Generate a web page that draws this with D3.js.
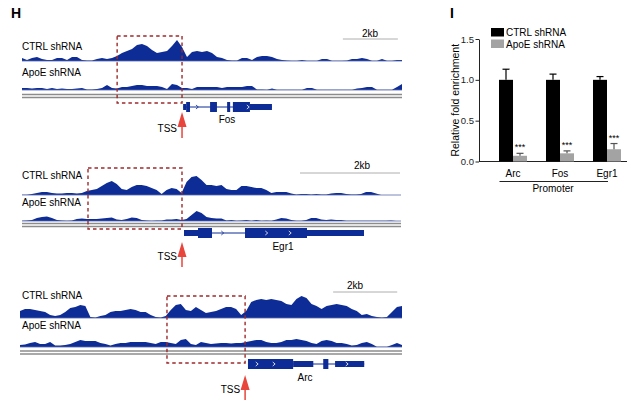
<!DOCTYPE html>
<html>
<head>
<meta charset="utf-8">
<script src="https://cdn.jsdelivr.net/npm/d3@7"></script>
<style>
body { margin: 0; background: #fff; }
text { font-family: "Liberation Sans", Arial, sans-serif; }
</style>
</head>
<body>
<svg id="fig" width="641" height="410"></svg>
<script>
// ---- panel H: coverage (77 even bins across each window) ----
var fosCtrl = [3,1,3,4,2,1,1,3,3,1,4,4,1,0.5,0.5,2,3,2,3,5,8,10,12,16,17,15,11,8,9,10,15,21,14,4,9,10,9,10,8,4,3,1,0.5,0.5,3,3,1,4,5,5,4,2,1,0.5,0.3,0.3,1,0.3,0.3,0.3,2,2,0.3,0.3,0.3,0.5,2,2,3,2,0.3,0.3,2,0.3,0.3,1,1];
var fosApoe = [2,2,1.5,2,2,1,2,1,1.5,1,1,1.5,2,0.5,0.5,1,2,5,2,1.5,3,3,4,5,5,4,4,4,3,1,6,5,2,2,1,3,3,3,3,3,2,3,3,3,3,4,4,0.5,0.5,0.3,1.5,0.3,0.3,0.3,0.3,0.3,0.3,2,2,0.3,0.3,0.3,0.3,0.3,0.3,0.3,0.3,1.5,2,3,3,0.3,0.3,0.3,0.3,3,6];
var egr1Ctrl = [0.3,0.3,1,2,3,3,2,1.5,1.5,2,2,1.5,2,4,5,6,9,12,14,11,6,5,8,10,10,9,7,5,1,5,7,6,2,13,18,19,15,10,10,9,10,6,5,5,9,9,8,7,7,5,2,3,3,3,1.5,0.5,1,1,0.5,1,0.5,0.5,1.5,2,2,1,0.5,0.5,1,3,3,1.5,0,0,0,0,0];
var egr1Apoe = [0.3,0.5,1,3,4,4.5,3,1,0.5,0.3,0.5,2,2.5,2,2,2,2.5,3,3.5,1.5,1,2,3.5,3,1,0.5,0.3,0.5,0.5,1.5,1.5,2,1,2,6,10,8,4,3,2.5,2.5,0.5,1,0.3,0.5,1,0.3,1,0.3,0.5,0.3,1.5,3,2.5,1,0.3,0.3,1,3,3,1.5,1,1.5,1,1,0.3,0.3,0.3,0.3,0.3,0.3,0.3,0.3,0.3,0.5,0,0];
var arcCtrl = [7,9,9,8,7,6,3,2,3,6,10,11,13,12,1,0.5,2,3,6,7,7,8,9,8,6,6,3,1,0.5,2,8,13,14,8,7,11,8,5,6,7,9,11,11,9,3,7,16,18,19,18,19,18,17,14,13,19,22,20,14,12,9,12,13,14,13,12,9,7,3,4,2,1,0.5,1,6,11,12];
var arcApoe = [2,2.5,4,5,3,3,5,1.5,1.5,2,3,5,7,6,6,6,4,3,1.5,3,4,4,5,5,5,5,4,3,5,5,4,3,7,8,3,2,5,4,3,3.5,4,4,3.5,4,4,5,6,7,7,5,4,4,5,7,7,8,7,6,4,3,6,7,6,4,4,3,1.5,2,4,5,3,0.3,0.3,0.3,2,4,2];

// genomic windows in kb relative to TSS
var geneNames = ["Fos", "Egr1", "Arc"];
var windowsKb = [[-5.82, 8.0], [-3.2, 4.38], [-7.03, 4.9]];
var roiKb = [[-2.36, 0], [-1.88, 0], [-2.44, 0]];
var scaleBarStartKb = [5.85, 2.36, 2.75];
// exons: [start kb, end kb, kind]  kind: "cds" thick, "utr" medium
var fosExons = [[0.04,0.15,"utr"],[0.15,0.29,"cds"],[1.02,1.27,"cds"],[1.64,1.75,"cds"],[1.85,2.47,"cds"],[2.47,3.27,"utr"]];
var egr1Exons = [[0.04,0.32,"utr"],[0.32,0.6,"cds"],[1.26,2.5,"cds"],[2.5,3.64,"utr"]];
var arcExons = [[0.09,1.5,"cds"],[1.5,2.13,"utr"],[2.44,2.6,"cds"],[2.81,3.72,"utr"]];
var fosChevrons = [0.55, 2.4];
var egr1Chevrons = [0.81, 1.69, 2.16];
var arcChevrons = [0.37, 0.9, 3.18];

// ---- panel I: ChIP-qPCR ----
var promoters = ["Arc", "Fos", "Egr1"];
var ctrlMean = [1.0, 1.0, 1.0];
var ctrlErr = [0.13, 0.07, 0.04];
var apoeMean = [0.07, 0.10, 0.15];
var apoeErr = [0.03, 0.03, 0.07];
var yTicks = [0, 0.5, 1.0, 1.5];

var blue = "#0d2c96", red = "#e8453c", darkRed = "#9e2a2b";
var svg = d3.select("#fig");

// layout of the three browser blocks (pixels)
var layout = [
  {px: [22, 402], tssX: 182, ctrlY: 61, apoeY: 90, railY: 94.5, geneY: 107, labCtrl: 49.5, labApoe: 75.5,
   roiY: [36, 103], barY: 39, kbText: [370, 36.5], geneLab: [227, 123], tssLab: 132, arrow: [112, 138]},
  {px: [22, 401], tssX: 182, ctrlY: 195, apoeY: 221, railY: 223.5, geneY: 233, labCtrl: 178.5, labApoe: 206,
   roiY: [168, 229], barY: 173, kbText: [362, 169], geneLab: [283, 250], tssLab: 260, arrow: [242, 267]},
  {px: [20, 402], tssX: 245, ctrlY: 318, apoeY: 347, railY: 351, geneY: 364, labCtrl: 298.5, labApoe: 329,
   roiY: [296, 363], barY: 292, kbText: [355, 288.5], geneLab: [305, 381], tssLab: 393, arrow: [375, 400]}
];
var coverage = [[fosCtrl, fosApoe], [egr1Ctrl, egr1Apoe], [arcCtrl, arcApoe]];
var exons = [fosExons, egr1Exons, arcExons];
var chevrons = [fosChevrons, egr1Chevrons, arcChevrons];

var h = d3.scaleLinear().domain([0, 22]).range([0, 22]);

svg.append("text").attr("x", 11).attr("y", 18).text("H")
  .attr("font-size", 14).attr("font-weight", "bold");

layout.forEach(function (L, b) {
  var g = svg.append("g");
  var x = d3.scaleLinear().domain(windowsKb[b]).range(L.px);

  // coverage tracks
  [L.ctrlY, L.apoeY].forEach(function (base, t) {
    var vals = coverage[b][t];
    var xi = d3.scaleLinear().domain([0, vals.length - 1]).range(L.px);
    g.append("path")
      .datum(vals)
      .attr("d", d3.area()
        .x(function (d, i) { return xi(i); })
        .y0(base)
        .y1(function (d) { return base - h(d); }))
      .attr("fill", blue);
    g.append("line")
      .attr("x1", L.px[0]).attr("x2", L.px[1])
      .attr("y1", base).attr("y2", base)
      .attr("stroke", "#5a6aa8").attr("stroke-width", 0.8);
  });

  g.append("text").attr("x", 22).attr("y", L.labCtrl).text("CTRL shRNA").attr("font-size", 10);
  g.append("text").attr("x", 22).attr("y", L.labApoe).text("ApoE shRNA").attr("font-size", 10);

  // double rail
  [L.railY, L.railY + 3].forEach(function (yy) {
    g.append("line").attr("x1", L.px[0]).attr("x2", L.px[1])
      .attr("y1", yy).attr("y2", yy)
      .attr("stroke", "#8c8c8c").attr("stroke-width", 1.5);
  });

  // scale bar
  var s0 = scaleBarStartKb[b];
  g.append("line").attr("x1", x(s0)).attr("x2", x(s0 + 2))
    .attr("y1", L.barY).attr("y2", L.barY)
    .attr("stroke", "#999").attr("stroke-width", 0.8);
  g.append("text").attr("x", L.kbText[0]).attr("y", L.kbText[1])
    .attr("text-anchor", "middle").attr("font-size", 10).text("2kb");

  // gene model
  var ex = exons[b];
  g.append("line")
    .attr("x1", x(ex[0][0])).attr("x2", x(ex[ex.length - 1][1]))
    .attr("y1", L.geneY).attr("y2", L.geneY)
    .attr("stroke", blue).attr("stroke-width", 1);
  g.selectAll("rect.exon").data(ex).enter().append("rect")
    .attr("x", function (d) { return x(d[0]); })
    .attr("width", function (d) { return x(d[1]) - x(d[0]); })
    .attr("y", function (d) { return L.geneY - (d[2] === "cds" ? 5 : 3); })
    .attr("height", function (d) { return d[2] === "cds" ? 10 : 6; })
    .attr("fill", blue);
  g.selectAll("path.chev").data(chevrons[b]).enter().append("path")
    .attr("d", function (d) {
      var cx = x(d), cy = L.geneY;
      return "M" + (cx - 1.2) + "," + (cy - 2) + "L" + (cx + 1.2) + "," + cy + "L" + (cx - 1.2) + "," + (cy + 2);
    })
    .attr("fill", "none")
    .attr("stroke", function (d) {
      var inside = ex.some(function (e) { return d >= e[0] && d <= e[1]; });
      return inside ? "#fff" : blue;
    })
    .attr("stroke-width", 0.8);
  g.append("text").attr("x", L.geneLab[0]).attr("y", L.geneLab[1])
    .attr("text-anchor", "middle").attr("font-size", 10).text(geneNames[b]);

  // dashed region of interest
  g.append("rect")
    .attr("x", x(roiKb[b][0])).attr("width", x(roiKb[b][1]) - x(roiKb[b][0]))
    .attr("y", L.roiY[0]).attr("height", L.roiY[1] - L.roiY[0])
    .attr("fill", "none").attr("stroke", darkRed)
    .attr("stroke-width", 1.4).attr("stroke-dasharray", "3.5,3");

  // TSS arrow
  var ax = x(0);
  g.append("line").attr("x1", ax).attr("x2", ax)
    .attr("y1", L.arrow[0] + 10).attr("y2", L.arrow[1])
    .attr("stroke", red).attr("stroke-width", 1.5);
  g.append("path")
    .attr("d", "M" + ax + "," + L.arrow[0] + "L" + (ax + 4.5) + "," + (L.arrow[0] + 15) +
      "L" + (ax - 4.5) + "," + (L.arrow[0] + 15) + "Z")
    .attr("fill", red);
  g.append("text").attr("x", ax - 5).attr("y", L.tssLab)
    .attr("text-anchor", "end").attr("font-size", 10).text("TSS");
});

// ---- panel I ----
svg.append("text").attr("x", 450).attr("y", 18).text("I")
  .attr("font-size", 14).attr("font-weight", "bold");

var y = d3.scaleLinear().domain([0, 1.5]).range([161.5, 39]);
var xb = d3.scaleBand().domain(promoters).range([475.5, 644.5])
  .paddingInner(0.404).paddingOuter(0.5);
var bw = xb.bandwidth() / 2;

var yAxis = svg.append("g")
  .attr("transform", "translate(479,0)")
  .call(d3.axisLeft(y).tickValues(yTicks).tickFormat(d3.format(".1f"))
    .tickSize(3.5).tickPadding(1.5).tickSizeOuter(0));
yAxis.selectAll("text").attr("font-size", 9.5).attr("fill", "#222")
  .attr("font-family", "Liberation Sans, Arial, sans-serif");
yAxis.selectAll("line,path").attr("stroke", "#222");

svg.append("line").attr("x1", 479).attr("x2", 627)
  .attr("y1", y(0)).attr("y2", y(0)).attr("stroke", "#222");

svg.append("text")
  .attr("transform", "translate(459," + y(0.75) + ") rotate(-90)")
  .attr("text-anchor", "middle").attr("font-size", 10.5).text("Relative fold enrichment");

var series = [
  {mean: ctrlMean, err: ctrlErr, off: 0, fill: "#000", errCol: "#000"},
  {mean: apoeMean, err: apoeErr, off: 1, fill: "#a3a3a3", errCol: "#555"}
];
series.forEach(function (s) {
  var g = svg.append("g");
  g.selectAll("rect").data(promoters).enter().append("rect")
    .attr("x", function (d) { return xb(d) + s.off * bw; })
    .attr("width", bw)
    .attr("y", function (d, i) { return y(s.mean[i]); })
    .attr("height", function (d, i) { return y(0) - y(s.mean[i]); })
    .attr("fill", s.fill);
  g.selectAll("line.v").data(promoters).enter().append("line")
    .attr("x1", function (d) { return xb(d) + s.off * bw + bw / 2; })
    .attr("x2", function (d) { return xb(d) + s.off * bw + bw / 2; })
    .attr("y1", function (d, i) { return y(s.mean[i]); })
    .attr("y2", function (d, i) { return y(s.mean[i] + s.err[i]); })
    .attr("stroke", s.errCol).attr("stroke-width", 1.2);
  g.selectAll("line.c").data(promoters).enter().append("line")
    .attr("x1", function (d) { return xb(d) + s.off * bw + bw / 2 - 3.5; })
    .attr("x2", function (d) { return xb(d) + s.off * bw + bw / 2 + 3.5; })
    .attr("y1", function (d, i) { return y(s.mean[i] + s.err[i]); })
    .attr("y2", function (d, i) { return y(s.mean[i] + s.err[i]); })
    .attr("stroke", s.errCol).attr("stroke-width", 1.2);
});

svg.selectAll("text.star").data(promoters).enter().append("text")
  .attr("x", function (d) { return xb(d) + bw * 1.5; })
  .attr("y", function (d, i) { return y(apoeMean[i] + apoeErr[i]) - 3; })
  .attr("text-anchor", "middle").attr("font-size", 9).text("***");

svg.selectAll("text.cat").data(promoters).enter().append("text")
  .attr("x", function (d) { return xb(d) + bw; })
  .attr("y", 177).attr("text-anchor", "middle").attr("font-size", 10)
  .text(function (d) { return d; });

svg.append("line")
  .attr("x1", xb("Arc") + 0.5).attr("x2", xb("Egr1") + bw * 2 - 13)
  .attr("y1", 181.5).attr("y2", 181.5).attr("stroke", "#222");
svg.append("text").attr("x", xb("Fos") + bw - 7).attr("y", 192)
  .attr("text-anchor", "middle").attr("font-size", 10).text("Promoter");

// legend
var leg = [["CTRL shRNA", "#000"], ["ApoE shRNA", "#a3a3a3"]];
leg.forEach(function (l, i) {
  svg.append("rect").attr("x", 491).attr("y", 28 + i * 11.5).attr("width", 13).attr("height", 8.5).attr("fill", l[1]);
  svg.append("text").attr("x", 506).attr("y", 36 + i * 11.5).attr("font-size", 10).text(l[0]);
});
</script>
</body>
</html>
